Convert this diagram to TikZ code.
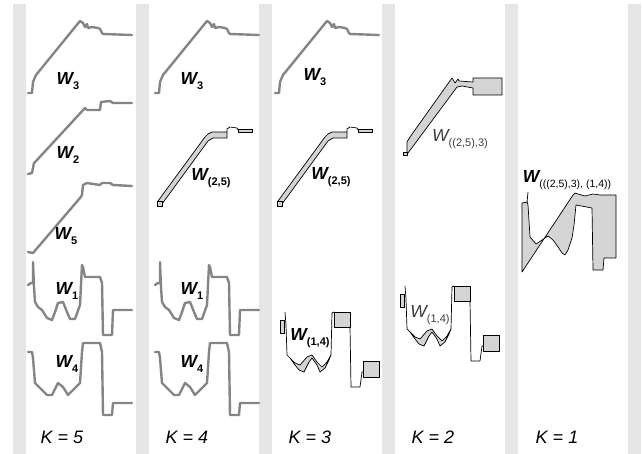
\documentclass[tikz,border=0pt]{standalone}
\usepackage{fontspec}
\setmainfont{Liberation Sans}
\usepackage{tikz}
\usepackage{xcolor}
\definecolor{stripecol}{RGB}{230,230,230}
\definecolor{tracecol}{RGB}{133,133,133}
\definecolor{bandcol}{RGB}{212,212,212}
\definecolor{darkgray2}{RGB}{60,60,60}
\tikzset{
  trace/.style={tracecol, line width=2.4pt, line join=round, line cap=round},
  merged/.style={draw=black, fill=bandcol, line width=0.7pt, line join=round},
  wlabel/.style={font=\fontsize{17.5}{17}\selectfont\bfseries\itshape},
  wlight/.style={font=\fontsize{17.5}{17}\selectfont\itshape, darkgray2},
  klabel/.style={font=\fontsize{18}{18}\selectfont\itshape}
}
\newcommand{\wsub}[2]{#1\raisebox{-0.6ex}{\fontsize{11}{10}\selectfont\upshape #2}}

\begin{document}
\begin{tikzpicture}[x=1pt,y=-1pt]
\useasboundingbox (0,0) rectangle (642,454);

% ── Grey separators between the five stages ──────────────────────────────────
\foreach \sx in {13,136,259,382,505,628}
  \fill[stripecol] (\sx,4) rectangle ++(13,450);

% ── W3 (columns 1-3) ─────────────────────────────────────────────────────────
\foreach \dx in {0,127,247} {
  \begin{scope}[xshift=\dx]
    \draw[trace] (28,93) -- (32,93) -- (33,82) -- (36,75) -- (80,21) -- (83,23)
      -- (85,27) -- (87,24) -- (88,28) -- (92,27) -- (98,28) -- (100,29)
      -- (102,33) -- (103,34) -- (132,35);
  \end{scope}
}

% ── W2 and W5 (column 1 only) ────────────────────────────────────────────────
\draw[trace] (28,174) -- (32,173) -- (34,163) -- (37,160) -- (85,108)
  -- (87,110) -- (100,110) -- (101,102) -- (110,101) -- (113,103) -- (132,103);
\draw[trace] (28,252) -- (33,253) -- (80,198) -- (82,195) -- (83,185)
  -- (87,183) -- (100,185) -- (102,183) -- (110,183) -- (113,185) -- (132,186);

% ── W1 and W4 (columns 1-2) ──────────────────────────────────────────────────
\foreach \dx in {0,127} {
  \begin{scope}[xshift=\dx]
    \draw[trace] (28,285) -- (31,283) -- (33,283) -- (33,262) -- (34,287)
      -- (35,302) -- (38,307) -- (42,310) -- (47,318) -- (52,320) -- (55,312)
      -- (58,303) -- (63,302) -- (67,312) -- (70,319) -- (75,319) -- (80,305)
      -- (82,265) -- (83,267) -- (85,277) -- (100,277) -- (102,283)
      -- (103,335) -- (112,335) -- (113,310) -- (132,310);
    \draw[trace] (28,352) -- (32,352) -- (33,358) -- (35,383) -- (42,390)
      -- (47,395) -- (52,395) -- (58,383) -- (63,387) -- (68,395) -- (75,388)
      -- (80,383) -- (82,352) -- (83,343) -- (100,343) -- (102,352)
      -- (103,415) -- (112,415) -- (113,403) -- (132,403);
  \end{scope}
}

% ── W(2,5) (columns 2-3) ─────────────────────────────────────────────────────
\foreach \dx in {0,120} {
  \begin{scope}[xshift=\dx]
    \filldraw[merged] (158,201) -- (205,137) -- (208,134) -- (212,132)
      -- (227,132) -- (227,138) -- (213,138) -- (208,141) -- (162,204) -- cycle;
    \filldraw[merged] (157,201) rectangle (162,206);
    \draw[line width=0.7pt] (227,132) -- (227,129) -- (230,127) -- (237,128)
      -- (238,130);
    \filldraw[merged, line width=0.5pt] (238,129) rectangle (252,132);
  \end{scope}
}

% ── W(1,4) (column 3, and column 4 moved up) ─────────────────────────────────
\foreach \dx/\dy in {0/0, 120/-26} {
  \begin{scope}[shift={(\dx,\dy)}]
    \filldraw[merged] (290,358) -- (295,363) -- (300,365) -- (307,357)
      -- (312,355) -- (317,362) -- (322,367) -- (327,362) -- (331,355)
      -- (329,360) -- (325,368) -- (320,372) -- (317,365) -- (312,358)
      -- (309,362) -- (304,372) -- (299,370) -- (295,365) -- cycle;
    \filldraw[merged] (280,320) rectangle (284,333);
    \draw[line width=0.7pt] (285,312) -- (286,325) -- (287,355) -- (290,358);
    \draw[line width=0.7pt] (331,355) -- (332,313) -- (334,312);
    \filldraw[merged] (334,312) rectangle (350,327);
    \draw[line width=0.7pt] (350,327) -- (351,387) -- (360,387) -- (362,372)
      -- (363,372);
    \filldraw[merged] (363,361) rectangle (379,377);
  \end{scope}
}

% ── W((2,5),3) (column 4) ────────────────────────────────────────────────────
\filldraw[merged] (407,153) -- (407,142) -- (410,137) -- (452,78) -- (455,83)
  -- (458,79) -- (459,81) -- (473,82) -- (473,78) -- (502,78) -- (502,95)
  -- (473,95) -- (473,88) -- (462,86) -- (457,87) -- (408,153) -- cycle;
\filldraw[merged] (403,152) rectangle (407,155);

% ── Final merge (column 5) ───────────────────────────────────────────────────
\filldraw[merged] (522,203) -- (527,202) -- (528,205) -- (530,237) -- (536,244)
  -- (542,240) -- (548,236) -- (553,240) -- (558,247) -- (562,253)
  -- (565,255) -- (568,250) -- (572,238) -- (574,225) -- (576,205)
  -- (592,208) -- (593,270) -- (603,270) -- (604,258) -- (616,258)
  -- (616,195) -- (600,195) -- (593,194) -- (585,196) -- (578,194)
  -- (575,193) -- (573,195) -- (522,272) -- cycle;
\draw[line width=0.7pt] (527,203) -- (528,192);

% ── Labels ───────────────────────────────────────────────────────────────────
\node[wlabel] (w3a) at (68,81)  {\wsub{W}{3}};
\node[wlabel] (w2)  at (68,155) {\wsub{W}{2}};
\node[wlabel] (w5)  at (66,236) {\wsub{W}{5}};
\node[wlabel] (w1a) at (67,291) {\wsub{W}{1}};
\node[wlabel] (w4a) at (67,364) {\wsub{W}{4}};
\node[wlabel] (w3b) at (192,81)  {\wsub{W}{3}};
\node[wlabel] (w25a) at (211,178) {\wsub{W}{(2,5)}};
\node[wlabel] (w1b) at (192,291) {\wsub{W}{1}};
\node[wlabel] (w4b) at (192,364) {\wsub{W}{4}};
\node[wlabel] (w3c) at (315,77)  {\wsub{W}{3}};
\node[wlabel] (w25b) at (331,177) {\wsub{W}{(2,5)}};
\node[wlabel] (w14a) at (310,338) {\wsub{W}{(1,4)}};
\node[wlight] (w253) at (460,139) {\wsub{W}{((2,5),3)}};
\node[wlight] (w14b) at (430,315) {\wsub{W}{(1,4)}};
\node[wlabel] (wall) at (567,180)
      {\wsub{W}{\mdseries\fontsize{10.5}{10}\selectfont(((2,5),3), (1,4))}};

\foreach \kx/\kn in {62/5, 187/4, 310/3, 433/2, 557/1}
  \node[klabel] (k\kn) at (\kx,437) {K = \kn};

\end{tikzpicture}
\end{document}
